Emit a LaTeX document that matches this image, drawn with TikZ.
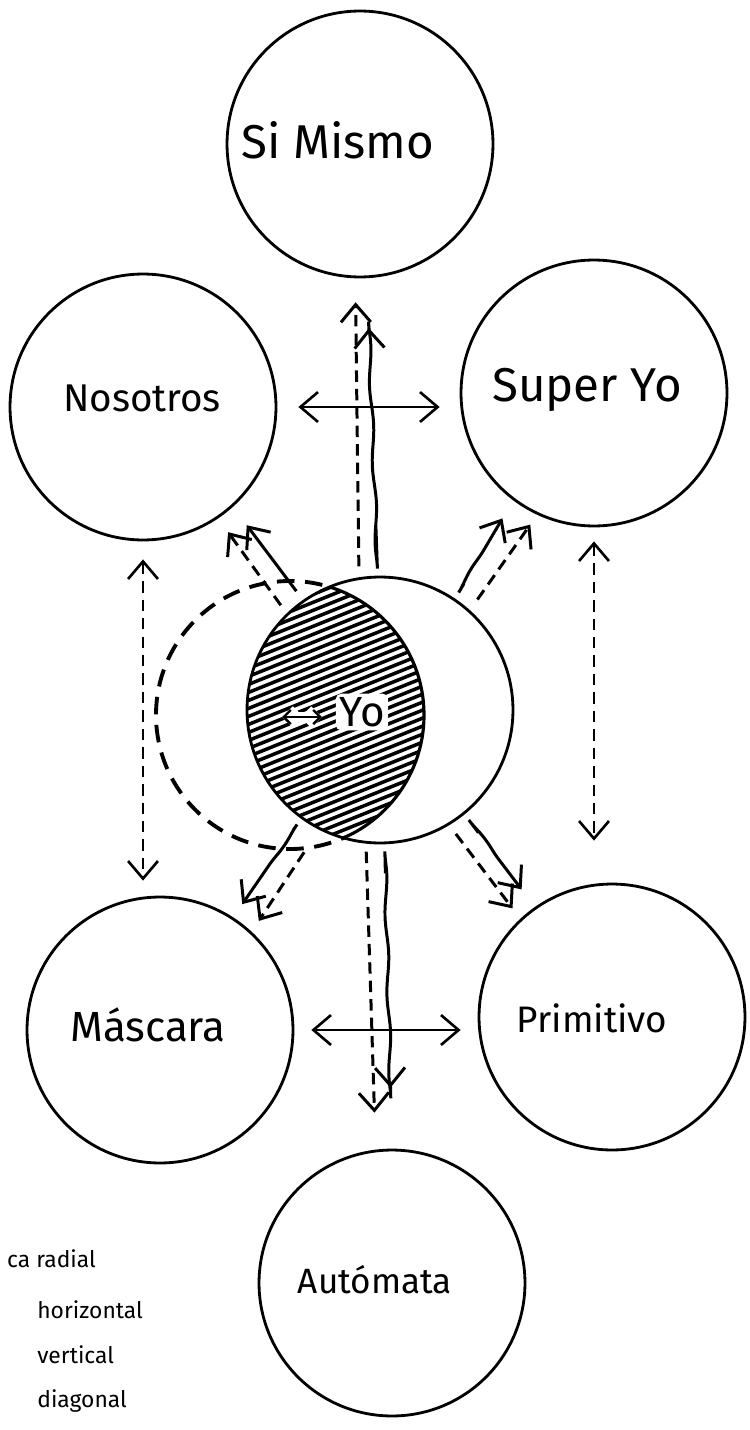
\documentclass[tikz,border=0pt]{standalone}
\usepackage{fontspec}
\setmainfont{Fira Sans}
\usepackage{xcolor}
\usepackage{tikz}
\usetikzlibrary{arrows.meta, decorations.pathmorphing}

\tikzset{
  barb/.tip={Straight Barb[length=10pt,width=17pt]},
  minibarb/.tip={Straight Barb[length=4pt,width=8pt]},
  orb/.style={draw, circle, line width=1.6pt, minimum size=5.32cm, inner sep=0pt},
  ghostring/.style={line width=2.2pt, dash pattern=on 10pt off 6pt},
  tag/.style={font=\fontsize{#1}{#1}\selectfont, inner sep=1pt},
  tag/.default=24,
  note/.style={font=\fontsize{13}{15}\selectfont, anchor=base west, inner sep=0pt},
  twoway/.style={line width=1.5pt, barb-barb},
  oneway/.style={line width=1.7pt, -barb},
  dashy/.style={dash pattern=on 6.5pt off 4pt},
  wavy/.style={decorate, decoration={snake, amplitude=0.8pt, segment length=45pt, pre length=4pt, post length=14pt}},
}

\begin{document}
\begin{tikzpicture}[x=0.02cm, y=-0.02cm]
\useasboundingbox (0,0) rectangle (750,1430);

\draw[ghostring] (290,715) circle (134);

\node[orb] (simismo) at (360,144) {};
\node[orb] (nosotros) at (143,407) {};
\node[orb] (superyo) at (594,393) {};
\node[orb, fill=white] (yo) at (380,710) {};
\node[orb] (mascara) at (160,1030) {};
\node[orb] (primitivo) at (612,1017) {};
\node[orb] (automata) at (392,1283) {};

\begin{scope}
\clip (380,710) circle (133);
\clip (290,715) circle (134);
\foreach \c in {520,528,...,1010}
  \draw[line width=2pt] (200,\c) -- (470,\c-109);
\end{scope}
\begin{scope}
\clip (380,710) circle (133);
\draw[line width=1.8pt] (290,715) circle (134);
\end{scope}

\node[tag=27] (simismo-t) at (338,140) {Si Mismo};
\node[tag=22] (nosotros-t) at (142,398) {Nosotros};
\node[tag=27] (superyo-t) at (587,390) {Super Yo};
\node[tag=24] (mascara-t) at (148,1025) {Máscara};
\node[tag=21] (primitivo-t) at (592,1018) {Primitivo};
\node[tag=20] (automata-t) at (375,1280) {Autómata};

\node[tag, fill=white, inner sep=2pt, rounded corners=3pt] (yo-t) at (362,712) {Yo};
\coordinate (yo-l) at (282,717);
\coordinate (yo-r) at (322,717);
\draw[line width=1.4pt, minibarb-minibarb, preaction={draw, white, line width=6pt}] (yo-l) -- (yo-r);

\draw[twoway] (nosotros.east) -- (nosotros.east -| superyo.west) [shorten <=0.42cm, shorten >=0.40cm];
\draw[twoway] (mascara.east) -- (mascara.east -| primitivo.west) [shorten <=0.34cm, shorten >=0.34cm];
\draw[twoway, dashy] (nosotros.south) -- (nosotros.south |- mascara.north) [shorten <=0.36cm, shorten >=0.30cm];
\draw[twoway, dashy] (superyo.south) -- (superyo.south |- primitivo.north) [shorten <=0.28cm, shorten >=0.84cm];

\draw[oneway, dashy, shorten <=0.22cm, shorten >=0.48cm] (yo.99) -- (simismo.-92.5);
\draw[oneway, wavy, shorten <=1.04cm, shorten >=1.0cm] (yo.91) -- (simismo.-87);
\draw[oneway, dashy, shorten <=0.16cm, shorten >=0.74cm] (yo.-96) -- (automata.97);
\draw[oneway, wavy, shorten <=0.58cm, shorten >=1.22cm] (yo.-88) -- (automata.90.5);

\draw[oneway, dashy, shorten <=0.2cm, shorten >=0.34cm] (yo.134) -- (nosotros.-56);
\draw[oneway, shorten <=0.22cm, shorten >=0.46cm] (yo.125) -- (nosotros.-48);
\draw[oneway, wavy, shorten <=0.34cm, shorten >=0.42cm] (yo.56) -- (superyo.-127);
\draw[oneway, dashy, shorten <=0.26cm, shorten >=0.24cm] (yo.48) -- (superyo.-115);
\draw[oneway, wavy, shorten <=0.28cm, shorten >=0.32cm] (yo.-126) -- (mascara.57);
\draw[oneway, dashy, shorten <=0.54cm, shorten >=0.26cm] (yo.-117) -- (mascara.47);
\draw[oneway, dashy, shorten <=0.22cm, shorten >=0.26cm] (yo.-59) -- (primitivo.133);
\draw[oneway, wavy, shorten <=0.46cm, shorten >=0.44cm] (yo.-51) -- (primitivo.125);

\node[note] (leg-r) at (36,1267) {\llap{ca }radial};
\node[note] (leg-h) at (37,1318) {horizontal};
\node[note] (leg-v) at (37,1363) {vertical};
\node[note] (leg-d) at (37,1407) {diagonal};
\end{tikzpicture}
\end{document}
